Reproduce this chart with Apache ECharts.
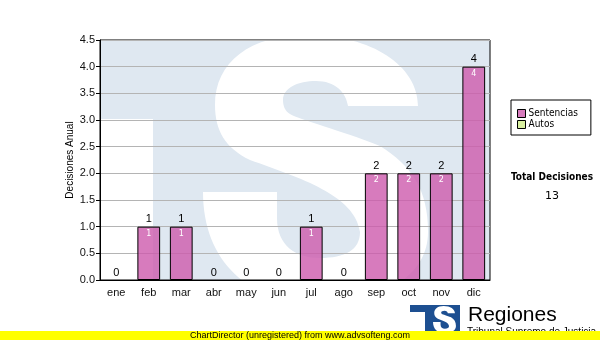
<!DOCTYPE html>
<html><head><meta charset="utf-8">
<script src="https://cdn.jsdelivr.net/npm/echarts@6/dist/echarts.min.js"></script>
<style>html,body{margin:0;padding:0;background:#fff}#c{width:600px;height:340px}</style>
</head><body><div id="c"></div>
<script>
var categories = ['ene','feb','mar','abr','may','jun','jul','ago','sep','oct','nov','dic'];
var sentencias = [0,1,1,0,0,0,1,0,2,2,2,4];
var autos = [0,0,0,0,0,0,0,0,0,0,0,0];
var yTicks = [0,0.5,1,1.5,2,2.5,3,3.5,4,4.5];
var totalLabel = 'Total Decisiones';
var totalValue = sentencias.reduce(function(a,b){return a+b;},0) + autos.reduce(function(a,b){return a+b;},0);

// outline of the logo "S" (decoration only)
var S_PATH = 'M 418 106 C 418 66 372 35 307 35 C 250 35 215 62 215 105 C 215 130 225 148 250 160 ' +
  'C 300 178 355 195 360 232 C 360 250 345 258 320 258 C 295 258 277 245 277 218 L 277 192 L 203 192 ' +
  'C 203 262 250 303 315 303 C 385 303 428 275 428 232 C 428 190 412 166 380 146 ' +
  'C 340 130 300 120 290 114 C 285 111 283 106 283 100 C 283 88 298 81 316 81 C 335 81 346 92 348 106 Z';
var S_SEGS = [
  [181,70, 181,40, 147,28, 102,28], [102,28, 62,28, 47,45, 47,65], [47,65, 47,95, 77,110, 112,125],
  [112,125, 157,145, 187,165, 187,190], [187,190, 187,220, 147,233, 107,233], [107,233, 62,233, 38,210, 38,158]
];
var hasShape = false;
try {
  echarts.graphic.registerShape('logoS', echarts.graphic.extendPath(S_PATH, {}));
  hasShape = true;
} catch (e) { hasShape = false; }

function logoS(ox, oy, sc, z){
  if (hasShape) {
    return [{type: 'logoS', z: z, silent: true, x: ox, y: oy, scaleX: sc, scaleY: sc, style: {fill: '#fff', stroke: null}}];
  }
  return S_SEGS.map(function(s){
    return {type: 'bezierCurve', z: z, silent: true, x: ox + 203 * sc, y: oy + 35 * sc, scaleX: sc, scaleY: sc,
      shape: {x1: s[0], y1: s[1], cpx1: s[2], cpy1: s[3], cpx2: s[4], cpy2: s[5], x2: s[6], y2: s[7]},
      style: {fill: null, stroke: '#fff', lineWidth: 60, lineCap: 'butt'}};
  });
}

function sentItems(arr){
  return arr.map(function(v){
    return v > 0 ? v : {value: v, itemStyle: {borderWidth: 0}};
  });
}

var graphics = [
  {type: 'rect', z: -10, silent: true, shape: {x: 100, y: 40, width: 390, height: 240}, style: {fill: '#dfe8f1'}},
  {type: 'rect', z: -9, silent: true, shape: {x: 100, y: 119, width: 53, height: 161}, style: {fill: '#fff'}}
].concat(logoS(0, 0, 1, -9)).concat([
  {type: 'rect', z: -8, silent: true, shape: {x: 0, y: 0, width: 600, height: 40}, style: {fill: '#fff'}},
  {type: 'rect', z: -8, silent: true, shape: {x: 0, y: 281, width: 600, height: 60}, style: {fill: '#fff'}},
  {type: 'text', left: 511, top: 172, style: {text: totalLabel, font: 'bold 10px "DejaVu Sans Condensed"', fill: '#000'}},
  {type: 'text', left: 545, top: 191, style: {text: String(totalValue), font: '11px "DejaVu Sans"', fill: '#000'}},
  {type: 'rect', z: 1, shape: {x: 410, y: 305, width: 50, height: 31}, style: {fill: '#1d4f91'}},
  {type: 'rect', z: 2, shape: {x: 410, y: 312, width: 15, height: 24}, style: {fill: '#fff'}}
]).concat(logoS(412.3, 302.4, 0.102, 2)).concat([
  {type: 'text', x: 468, y: 305, style: {text: 'Regiones', font: '21px "Liberation Sans"', fill: '#000'}},
  {type: 'text', x: 467, y: 327, style: {text: 'Tribunal Supremo de Justicia', font: '10px "Liberation Sans"', fill: '#000'}},
  {type: 'rect', z: 10, shape: {x: 0, y: 331, width: 600, height: 9}, style: {fill: '#ffff00'}},
  {type: 'text', x: 300, y: 336, z: 11, style: {text: 'ChartDirector (unregistered) from www.advsofteng.com', font: '9px "Liberation Sans"', fill: '#000', textAlign: 'center', textVerticalAlign: 'middle'}}
]);

var chart = echarts.init(document.getElementById('c'));
chart.setOption({
  animation: false,
  textStyle: {fontFamily: 'Liberation Sans'},
  grid: {left: 100, right: 110, top: 40, bottom: 60, show: true, borderColor: '#000', borderWidth: 1, backgroundColor: 'transparent'},
  legend: {
    orient: 'vertical', left: 511, top: 100, icon: 'rect', itemWidth: 8, itemHeight: 8, itemGap: 0,
    borderColor: '#000', borderWidth: 1, padding: [8, 13, 5, 6], backgroundColor: '#fff',
    itemStyle: {borderColor: '#000', borderWidth: 1},
    textStyle: {fontFamily: 'DejaVu Sans Condensed', fontSize: 10, color: '#000', lineHeight: 11, padding: [0,0,0,-2]},
    data: ['Sentencias', 'Autos']
  },
  xAxis: {
    type: 'category', data: categories,
    axisLine: {lineStyle: {color: '#000', width: 1}},
    axisTick: {alignWithLabel: true, length: 4, lineStyle: {color: '#000'}},
    axisLabel: {color: '#111', fontSize: 11, margin: 7}
  },
  yAxis: {
    type: 'value', min: yTicks[0], max: yTicks[yTicks.length-1], interval: 0.5,
    name: 'Decisiones Anual', nameLocation: 'middle', nameGap: 25, nameRotate: 90, nameMoveOverlap: false,
    nameTextStyle: {fontFamily: 'Liberation Sans', fontSize: 10, color: '#000'},
    axisLine: {show: true, lineStyle: {color: '#000', width: 1}},
    axisTick: {show: true, length: 4, lineStyle: {color: '#000'}},
    axisLabel: {color: '#111', fontSize: 11, margin: 5, formatter: function(v){return v.toFixed(1);}},
    splitLine: {lineStyle: {color: '#b4b4b4', width: 1}}
  },
  graphic: graphics,
  series: [
    {
      name: 'Sentencias', type: 'bar', stack: 't', data: sentItems(sentencias), barWidth: '70%',
      itemStyle: {color: 'rgba(205,90,172,0.8)', borderColor: '#000', borderWidth: 1},
      label: {show: true, position: 'insideTop', distance: 3, color: '#fff', fontSize: 8,
        fontFamily: 'DejaVu Sans', formatter: function(p){return p.value > 0 ? String(p.value) : '';}}
    },
    {
      name: 'Autos', type: 'bar', stack: 't', data: autos, barWidth: '70%',
      itemStyle: {color: '#d8f0a0', borderColor: '#000', borderWidth: 0},
      label: {show: true, position: 'top', distance: 2, color: '#000', fontSize: 11,
        formatter: function(p){return String(sentencias[p.dataIndex] + autos[p.dataIndex]);}}
    }
  ]
});
</script></body></html>
